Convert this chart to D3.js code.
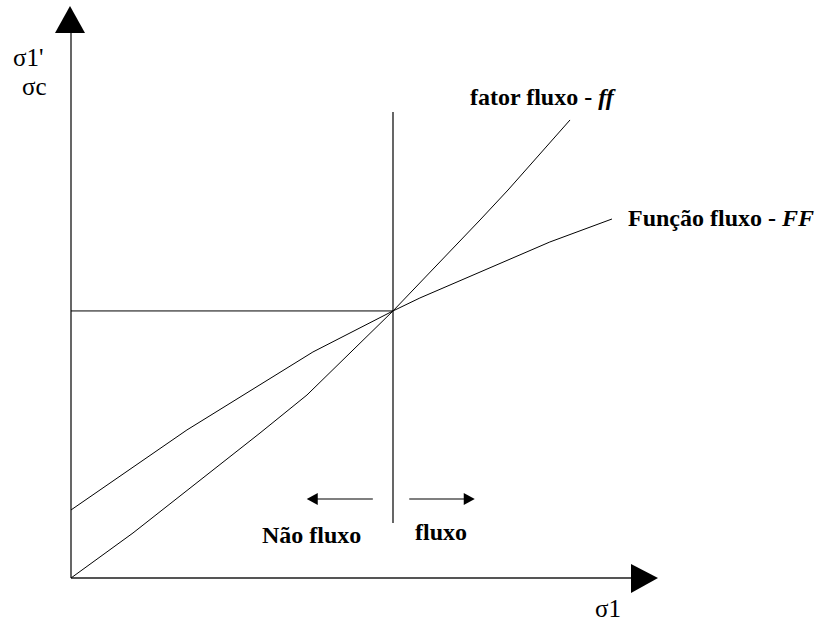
<!DOCTYPE html>
<html>
<head>
<meta charset="utf-8">
<script src="https://cdn.jsdelivr.net/npm/d3@7"></script>
<style>
  html, body { margin: 0; padding: 0; background: #fff; }
  svg { display: block; }
</style>
</head>
<body>
<div id="chart"></div>
<script>
// ---- data (abstract units, 0..100 on both axes) ----
const ffX = [0, 11.07, 33.75, 42.14, 57.5, 73.04, 78.04, 89.11];
const ffY = [0, 8.26, 26.6, 33.58, 49.0, 65.69, 71.19, 84.04];
const FFX = [0, 20.7, 43.2, 57.5, 62.3, 85.5, 96.6];
const FFY = [12.48, 27.16, 41.47, 49.0, 51.38, 61.65, 65.87];
const critX = [57.5];          // critical sigma1
const critY = [49.0];          // critical sigma1'/sigmac
const vLineY = [10.1, 85.5];   // extent of vertical divider
const arrowY = [14.5];
const leftArrowX = [53.9, 42.1];
const rightArrowX = [60.4, 72.1];
const labelFF = ["fator fluxo - ", "ff"];
const labelFunc = ["Função fluxo - ", "FF"];
const labelNao = ["Não fluxo"];
const labelFluxo = ["fluxo"];
const yAxisLabel = ["σ1'", "σc"];
const xAxisLabel = ["σ1"];

const W = 825, H = 622;
const FONT = "'Liberation Serif', 'DejaVu Serif', serif";
const svg = d3.select("#chart").append("svg").attr("width", W).attr("height", H);

const x = d3.scaleLinear().domain([0, 100]).range([71, 631]);
const y = d3.scaleLinear().domain([0, 100]).range([578, 33]);

// axes
svg.append("line").attr("x1", x(0)).attr("x2", x(0)).attr("y1", y(0)).attr("y2", y(100))
  .attr("stroke", "#000").attr("stroke-width", 1.2);
svg.append("line").attr("x1", x(0)).attr("x2", x(100)).attr("y1", y(0)).attr("y2", y(0))
  .attr("stroke", "#555").attr("stroke-width", 1.8);
// arrowheads on axes
svg.append("path").attr("d", `M${x(0)-16},${y(100)} L${x(0)+14},${y(100)} L${x(0)-1},${y(100)-27} Z`).attr("fill", "#000");
svg.append("path").attr("d", `M${x(100)},${y(0)-14} L${x(100)},${y(0)+15} L${x(100)+27},${y(0)} Z`).attr("fill", "#000");

// horizontal reference line & vertical divider
svg.append("line").attr("x1", x(0)).attr("x2", x(critX[0])).attr("y1", y(critY[0])).attr("y2", y(critY[0]))
  .attr("stroke", "#000").attr("stroke-width", 1);
svg.append("line").attr("x1", x(critX[0])).attr("x2", x(critX[0])).attr("y1", y(vLineY[0])).attr("y2", y(vLineY[1]))
  .attr("stroke", "#000").attr("stroke-width", 1.2);

const line = d3.line().x(d => x(d[0])).y(d => y(d[1]));
svg.append("path").datum(ffX.map((v, i) => [v, ffY[i]])).attr("d", line)
  .attr("fill", "none").attr("stroke", "#000").attr("stroke-width", 1);
svg.append("path").datum(FFX.map((v, i) => [v, FFY[i]])).attr("d", line)
  .attr("fill", "none").attr("stroke", "#000").attr("stroke-width", 1);

// small direction arrows
function arrow(xs) {
  const x0 = x(xs[0]), x1 = x(xs[1]), yy = y(arrowY[0]);
  const dir = Math.sign(x1 - x0);
  svg.append("line").attr("x1", x0).attr("x2", x1 - dir * 10).attr("y1", yy).attr("y2", yy)
    .attr("stroke", "#000").attr("stroke-width", 1.2);
  svg.append("path").attr("d", `M${x1},${yy} L${x1 - dir * 11},${yy - 6} L${x1 - dir * 11},${yy + 6} Z`).attr("fill", "#000");
}
arrow(leftArrowX);
arrow(rightArrowX);

// labels
function txt(xp, yp, size, bold) {
  return svg.append("text").attr("x", xp).attr("y", yp)
    .attr("font-family", FONT).attr("font-size", size)
    .attr("font-weight", bold ? "bold" : "normal").attr("fill", "#000");
}
const t1 = txt(470, 105, 24, true);
t1.append("tspan").text(labelFF[0]);
t1.append("tspan").attr("font-style", "italic").text(labelFF[1]);
const t2 = txt(628, 226, 24, true);
t2.append("tspan").text(labelFunc[0]);
t2.append("tspan").attr("font-style", "italic").text(labelFunc[1]);
txt(262, 543, 24, true).text(labelNao[0]);
txt(415, 540, 24, true).text(labelFluxo[0]);
txt(13, 66, 25, false).text(yAxisLabel[0]);
txt(22, 95, 25, false).text(yAxisLabel[1]);
txt(595, 617, 25, false).text(xAxisLabel[0]);
</script>
</body>
</html>
